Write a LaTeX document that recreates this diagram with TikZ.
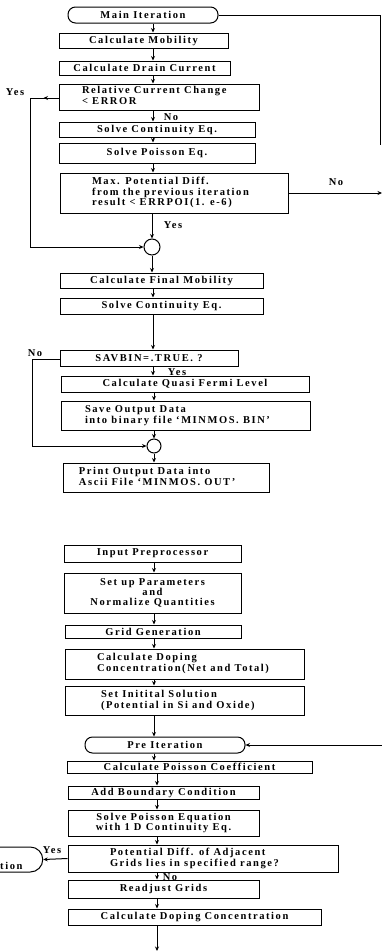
\documentclass[tikz,border=0pt]{standalone}
\usepackage{fontspec}
\setmainfont{Liberation Serif}[LetterSpace=15]
\usetikzlibrary{arrows.meta,decorations.markings}
\newcommand{\lefttext}[3]{\makebox[#1][l]{\hspace*{#2}\begin{tabular}{@{}l@{}}#3\end{tabular}}}
\tikzset{
  box/.style={draw, line width=1pt, rectangle, inner sep=0pt, font=\bfseries\fontsize{10.5}{10.8}\selectfont, align=center},
  term/.style={box, rounded corners=7.5pt},
  junc/.style={draw, line width=1pt, circle, inner sep=0pt},
  arr/.style={line width=1pt, -{Stealth[length=4.5pt,width=4pt]}},
  ln/.style={line width=1pt},
  lab/.style={font=\bfseries\fontsize{10.5}{10.8}\selectfont, inner sep=0pt},
  midarrow/.style={postaction={decorate}, decoration={markings, mark=at position #1 with {\arrow{Stealth[length=4.5pt,width=4pt]}}}}
}
\begin{document}
\begin{tikzpicture}[x=1pt,y=-1pt]
\useasboundingbox (0,0) rectangle (382,951);
\coordinate (axA) at (153,0);
\coordinate (axB) at (154,0);
\coordinate (axC) at (157,0);
% ---------- upper chart ----------
\node[term, minimum width=150pt, minimum height=16pt] (mi) at (143,15) {Main Iteration};
\node[box, minimum width=169pt, minimum height=15pt] (mob) at (143.5,40.5) {Calculate Mobility};
\node[box, minimum width=171pt, minimum height=14pt] (drain) at (144.5,68) {Calculate Drain Current};
\node[box, minimum width=200pt, minimum height=26pt] (rel) at (159,97) {\lefttext{200pt}{23pt}{Relative Current Change\\< ERROR}};
\node[box, minimum width=196pt, minimum height=15pt] (cont1) at (157,129.5) {Solve Continuity Eq.};
\node[box, minimum width=196pt, minimum height=20pt] (pois1) at (157,153) {Solve Poisson Eq.};
\node[box, minimum width=228pt, minimum height=40pt] (maxp) at (174,193) {\lefttext{228pt}{32pt}{Max. Potential Diff.\\from the previous iteration\\result < ERRPOI(1. e-6)}};
\node[junc, minimum size=16pt] (c1) at (152,247) {};
\node[box, minimum width=203pt, minimum height=15pt] (finmob) at (161.5,280.5) {Calculate Final Mobility};
\node[box, minimum width=203pt, minimum height=16pt] (cont2) at (161.5,306) {Solve Continuity Eq.};
\node[box, minimum width=178pt, minimum height=16pt] (sav) at (149,358) {SAVBIN=.TRUE. ?};
\node[box, minimum width=248pt, minimum height=16pt] (qfl) at (185,384) {Calculate Quasi Fermi Level};
\node[box, minimum width=249pt, minimum height=29pt] (save) at (185.5,415.5) {\lefttext{249pt}{24pt}{Save Output Data\\into binary file `MINMOS. BIN'}};
\node[junc, minimum size=14pt] (c2) at (154,446) {};
\node[box, minimum width=206pt, minimum height=29pt] (print) at (166,477.5) {\lefttext{206pt}{16pt}{Print Output Data into\\Ascii File `MINMOS. OUT'}};

\draw[arr] (mi.south -| axA) -- (mob.north -| axA);
\draw[arr] (mob.south -| axA) -- (drain.north -| axA);
\draw[arr] (drain.south -| axA) -- (rel.north -| axA);
\draw[arr] (rel.south -| axA) -- (cont1.north -| axA);
\draw[arr] (cont1.south -| axA) -- (pois1.north -| axA);
\draw[arr] (pois1.south -| axA) -- (maxp.north -| axA);
\draw[arr] (maxp.south -| c1) -- (c1.north);
\draw[arr] (c1.south) -- (finmob.north -| c1);
\draw[arr] (finmob.south -| axA) -- (cont2.north -| axA);
\draw[arr] (cont2.south -| axA) -- (sav.north -| axA);
\draw[arr] (sav.south -| axA) -- (qfl.north -| axA);
\draw[arr] (qfl.south -| c2) -- (save.north -| c2);
\draw[arr] (save.south -| c2) -- (c2.north);
\draw[arr] (c2.south) -- (print.north -| c2);

% Yes loop from relative current change
\coordinate (yl) at (30,98);
\draw[ln, midarrow=15pt] (rel.west |- yl) -- (yl) -- (yl |- c1);
\draw[arr] (yl |- c1) -- (c1.west);
% No loop from SAVBIN
\coordinate (nl) at (32,359);
\draw[ln] (sav.west |- nl) -- (nl) -- (nl |- c2);
\draw[arr] (nl |- c2) -- (c2.west);
% Main iteration line going right
\coordinate (mr) at (380,15);
\coordinate (mrend) at (380,145);
\draw[ln] (mi.east) -- (mr) -- (mrend);
% No from max potential diff
\coordinate (noend) at (382,193);
\draw[arr] (maxp.east) -- (noend);

\node[lab] (lyes1) at (15,92) {Yes};
\node[lab] (lno1) at (171,117) {No};
\node[lab] (lno2) at (336,182) {No};
\node[lab] (lyes2) at (173,225) {Yes};
\node[lab] (lno3) at (35,353) {No};
\node[lab] (lyes3) at (177,372) {Yes};

% ---------- lower chart ----------
\node[box, minimum width=177pt, minimum height=17pt] (inp) at (152.5,553.5) {Input Preprocessor};
\node[box, minimum width=177pt, minimum height=40pt, font=\bfseries\fontsize{10.5}{10}\selectfont] (setup) at (152.5,593) {Set up Parameters\\and\\Normalize Quantities};
\node[box, minimum width=176pt, minimum height=13pt] (grid) at (153,631.5) {Grid Generation};
\node[box, minimum width=239pt, minimum height=30pt] (dop1) at (184.5,664) {\lefttext{239pt}{32pt}{Calculate Doping\\Concentration(Net and Total)}};
\node[box, minimum width=239pt, minimum height=29pt] (init) at (184.5,700.5) {\lefttext{239pt}{36pt}{Set Initital Solution\\(Potential in Si and Oxide)}};
\node[term, minimum width=160pt, minimum height=16pt] (pre) at (165,745) {Pre Iteration};
\node[box, minimum width=245pt, minimum height=12pt] (pcoef) at (189.5,767) {Calculate Poisson Coefficient};
\node[box, minimum width=191pt, minimum height=13pt] (abc) at (163.5,792.5) {Add Boundary Condition};
\node[box, minimum width=191pt, minimum height=26pt] (spe) at (163.5,823) {Solve Poisson Equation\\with 1 D Continuity Eq.};
\node[box, minimum width=270pt, minimum height=27pt] (pdiff) at (203,858.5) {\lefttext{270pt}{42pt}{Potential Diff. of Adjacent\\Grids lies in specified range?}};
\node[box, minimum width=191pt, minimum height=18pt] (readj) at (163.5,889) {Readjust Grids};
\node[box, minimum width=253pt, minimum height=16pt] (dop2) at (194.5,917) {Calculate Doping Concentration};
\node[term, rounded corners=12.5pt, minimum width=60pt, minimum height=25pt] (mi2) at (12.75,859.5) {};
\node[lab, anchor=west] (tion) at (0,866) {tion};
\coordinate (endB) at (157,951);
\coordinate (prein) at (382,745);

\draw[arr] (inp.south -| axB) -- (setup.north -| axB);
\draw[arr] (setup.south -| axB) -- (grid.north -| axB);
\draw[arr] (grid.south -| axB) -- (dop1.north -| axB);
\draw[arr] (dop1.south -| axB) -- (init.north -| axB);
\draw[arr] (init.south -| axB) -- (pre.north -| axB);
\draw[arr] (pre.south -| axB) -- (pcoef.north -| axB);
\draw[arr] (pcoef.south -| axC) -- (abc.north -| axC);
\draw[arr] (abc.south -| axC) -- (spe.north -| axC);
\draw[arr] (spe.south -| axC) -- (pdiff.north -| axC);
\draw[arr] (pdiff.south -| axC) -- (readj.north -| axC);
\draw[arr] (readj.south -| axC) -- (dop2.north -| axC);
\draw[arr] (dop2.south -| axC) -- (endB);
\draw[arr] (prein) -- (pre.east);
\draw[arr] (pdiff.west) -- (mi2.east);

\node[lab] (lyes4) at (52,850) {Yes};
\node[lab] (lno4) at (170,877) {No};
\end{tikzpicture}
\end{document}
